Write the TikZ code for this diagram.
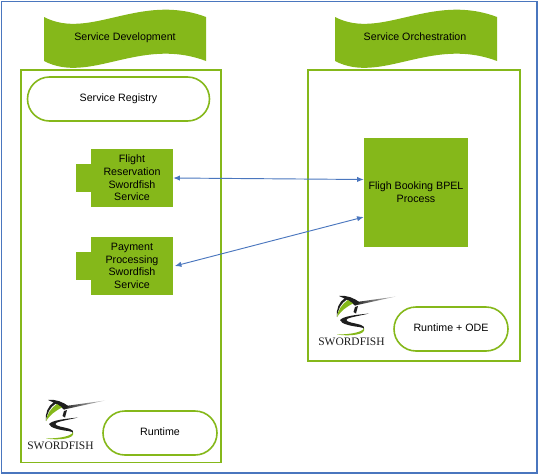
\documentclass[tikz,border=0pt]{standalone}
\usepackage{fontspec}
\setmainfont{Liberation Sans}
\newfontfamily\logofont{Liberation Serif}
\usepackage{tikz}
\usetikzlibrary{arrows.meta,positioning}
\definecolor{swgreen}{HTML}{85B81A}
\definecolor{swblue}{HTML}{4A76BE}
\definecolor{swink}{HTML}{1E1E1E}

\begin{document}
\begin{tikzpicture}[
  x=0.75pt, y=-0.75pt,
  frame/.style={draw=swblue, line width=1.2pt},
  zone/.style={draw=swgreen, line width=1.2pt, rectangle, anchor=north west, inner sep=0pt},
  pill/.style={draw=swgreen, line width=1.2pt, fill=white, rectangle, rounded corners=16.5pt, minimum width=85.5pt, minimum height=33pt, inner sep=0pt, align=center, text height=6pt, text depth=2pt, font=\fontsize{8}{10}\selectfont},
  comp/.style={fill=swgreen, rectangle, minimum width=61.5pt, minimum height=43pt, inner sep=0pt, align=center, font=\fontsize{8}{9.5}\selectfont},
  tabbox/.style={fill=swgreen, rectangle, minimum width=11.5pt, minimum height=21pt, inner sep=0pt},
  bpel/.style={fill=swgreen, rectangle, minimum width=78pt, minimum height=82pt, inner sep=0pt, align=center, font=\fontsize{8}{9.5}\selectfont},
  title/.style={font=\fontsize{8}{10}\selectfont, inner sep=0pt, text height=6pt, text depth=2pt},
  wave/.style={fill=swgreen},
  logotext/.style={font=\logofont\fontsize{8.6}{10}\selectfont, inner sep=0pt, text=swink},
  arrow/.style={{Latex[length=5pt,width=4pt]}-{Latex[length=5pt,width=4pt]}, draw=swblue, line width=0.7pt},
  swordfish/.pic={
    % bill
    \shade[left color=swink, right color=gray!35] (62,406.5) -- (105,400.5) -- (64,409.5) -- cycle;
    % head and back
    \fill[swink] (48,400) .. controls (56,399) and (63,402) .. (69,406.5) -- (64,409.5) .. controls (60,406) and (55,403) .. (48,400) -- cycle;
    \fill[swink] (54,402) .. controls (48,406) and (45,413) .. (46,421) .. controls (47,413) and (50,407) .. (56,403.5) -- cycle;
    % crescent
    \fill[swgreen] (57,404) .. controls (51,408) and (47,414) .. (46,421) .. controls (50,415) and (55,411) .. (62,407.5) -- cycle;
    % fin
    \fill[swink] (64,411) -- (67,410) -- (65,417.5) -- (62.5,416) -- cycle;
    % lower swoosh and tail
    \fill[swink] (78,417.5) .. controls (64,419) and (53,420) .. (49,424) .. controls (50,428) and (60,430) .. (68,431) .. controls (71,431.5) and (73,432) .. (73,433) .. controls (75,429) and (66,428) .. (60,426.5) .. controls (54,425) and (54,423) .. (60,421.5) .. controls (66,420) and (72,419) .. (78,417.5) -- cycle;
    \fill[swgreen] (73,432) .. controls (72,436) and (60,438.5) .. (46,438.5) .. controls (58,440.5) and (76,439) .. (73,432) -- cycle;
  }
]
  \useasboundingbox (0,0) rectangle (539,475);
  \draw[frame] (1.5,1.5) rectangle (537,473);

  % left column
  \fill[wave] (44,17) .. controls (90,41) and (140,-8) .. (206,17) -- (206,61) .. controls (140,36) and (90,85) .. (44,61) -- cycle;
  \node[title] (devtitle) at (125,38) {Service Development};
  \node[zone, minimum width=150pt, minimum height=294.5pt] (devzone) at (20,69) {};
  \node[pill, minimum width=136.5pt] (registry) at (118.5,99) {Service Registry};

  \node[tabbox] (flighttab) at (84,178) {};
  \node[comp] (flight) at (132,178) {Flight\\Reservation\\Swordfish\\Service};
  \node[tabbox] (paytab) at (84,266) {};
  \node[comp] (pay) at (132,266) {Payment\\Processing\\Swordfish\\Service};

  \pic at (0,0) {swordfish};
  \node[logotext] (logodev) at (60.5,446) {SWORDFISH};
  \node[pill] (runtime) at (160,433) {Runtime};

  % right column
  \fill[wave] (335,17) .. controls (381,41) and (431,-8) .. (497,17) -- (497,61) .. controls (431,36) and (381,85) .. (335,61) -- cycle;
  \node[title] (orchtitle) at (415,38) {Service Orchestration};
  \node[zone, minimum width=159pt, minimum height=218.5pt] (orchzone) at (307,69) {};
  \node[bpel] (booking) at (416,192.5) {Fligh Booking BPEL\\Process};

  \pic at (291,-104) {swordfish};
  \node[logotext] (logoorch) at (351.5,342) {SWORDFISH};
  \node[pill] (ode) at (451,329) {Runtime + ODE};

  \draw[arrow] (flight.east) -- (booking.west |- 0,179.5);
  \draw[arrow] (pay.east) ++(1.5,0) coordinate (payend) (payend) -- (booking.west |- 0,217);
\end{tikzpicture}
\end{document}
